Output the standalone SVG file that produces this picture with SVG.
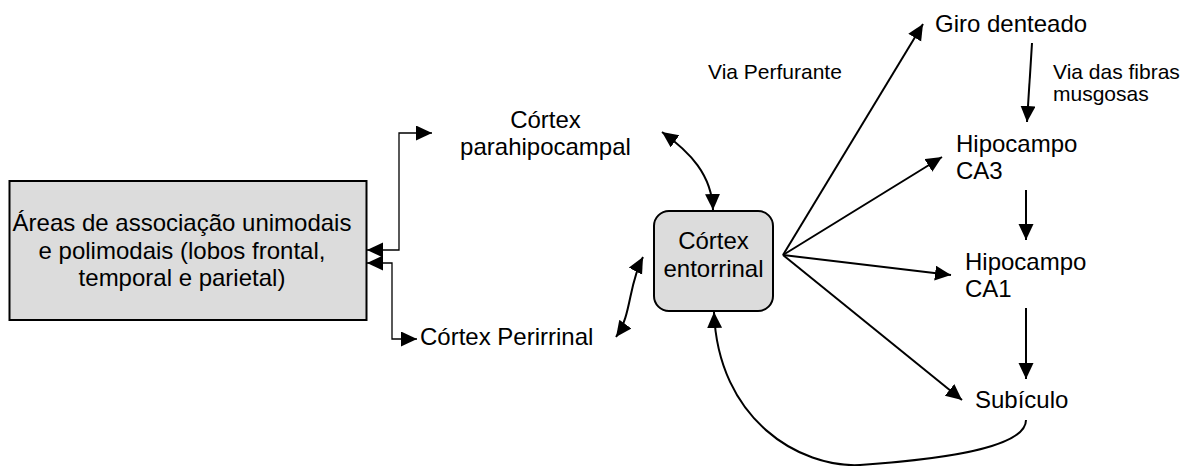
<svg xmlns="http://www.w3.org/2000/svg" width="1193" height="466" viewBox="0 0 1193 466">
<style>
text{font-family:"Liberation Sans",Arial,sans-serif;fill:#000}
.big{font-size:24px}
.small{font-size:21px}
.box{fill:#dcdcdc;stroke:#000;stroke-width:2}
.c{fill:none;stroke:#000;stroke-width:2}
.thin{fill:none;stroke:#000;stroke-width:1.3}
</style>
<defs>
<marker id="ah" markerUnits="userSpaceOnUse" markerWidth="17" markerHeight="16" refX="16" refY="7.5" orient="auto-start-reverse" viewBox="0 0 17 16">
<path d="M0,0 L16,7.5 L0,15 z" fill="#000"/>
</marker>
</defs>
<g id="connectors">
<path class="thin" d="M367,250 H399 V133 H432" marker-start="url(#ah)" marker-end="url(#ah)"/>
<path class="thin" d="M367,263 H392 V339 H417" marker-start="url(#ah)" marker-end="url(#ah)"/>
<path class="c" d="M662,132 C690,152 712,175 713,210" marker-start="url(#ah)" marker-end="url(#ah)"/>
<path class="c" d="M616,337 C632,315 628,285 643,257" marker-start="url(#ah)" marker-end="url(#ah)"/>
<path class="c" d="M783,255 L923,24" marker-end="url(#ah)"/>
<path class="c" d="M783,255 L942,157" marker-end="url(#ah)"/>
<path class="c" d="M783,255 L951,275" marker-end="url(#ah)"/>
<path class="c" d="M783,255 L962,400" marker-end="url(#ah)"/>
<path class="c" d="M1032,43 L1027,122" marker-end="url(#ah)"/>
<path class="c" d="M1026,190 L1026,240" marker-end="url(#ah)"/>
<path class="c" d="M1026,308 L1026,379" marker-end="url(#ah)"/>
<path class="c" d="M1026,420 C1026,445 960,458 860,465 C800,468 718,420 714,312" marker-end="url(#ah)"/>
</g>
<g id="areas">
<rect class="box" x="9.5" y="181" width="357" height="139"/>
<text class="big" x="182" y="231" text-anchor="middle">Áreas de associação unimodais</text>
<text class="big" x="182" y="258.5" text-anchor="middle">e polimodais (lobos frontal,</text>
<text class="big" x="182" y="286" text-anchor="middle">temporal e parietal)</text>
</g>
<g id="parahipocampal">
<text class="big" x="545.5" y="128" text-anchor="middle">Córtex</text>
<text class="big" x="545.5" y="155" text-anchor="middle">parahipocampal</text>
</g>
<g id="perirrinal">
<text class="big" x="420" y="345">Córtex Perirrinal</text>
</g>
<g id="entorrinal">
<rect class="box" x="654" y="211" width="119" height="100" rx="15" ry="15"/>
<text class="big" x="713.5" y="249" text-anchor="middle">Córtex</text>
<text class="big" x="713.5" y="277" text-anchor="middle">entorrinal</text>
</g>
<g id="via-perfurante">
<text class="small" x="708" y="79">Via Perfurante</text>
</g>
<g id="giro">
<text class="big" x="935" y="32">Giro denteado</text>
</g>
<g id="via-fibras">
<text class="small" x="1053" y="79">Via das fibras</text>
<text class="small" x="1053" y="101">musgosas</text>
</g>
<g id="ca3">
<text class="big" x="956" y="152">Hipocampo</text>
<text class="big" x="956" y="178.5">CA3</text>
</g>
<g id="ca1">
<text class="big" x="965" y="270">Hipocampo</text>
<text class="big" x="965" y="297">CA1</text>
</g>
<g id="subiculo">
<text class="big" x="975" y="408">Subículo</text>
</g>
</svg>
